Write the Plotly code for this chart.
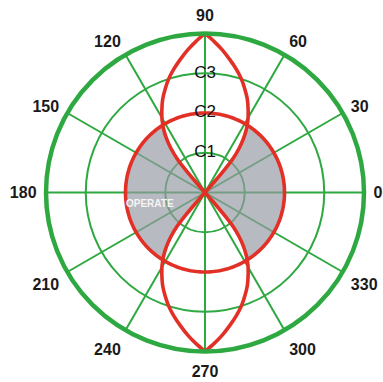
import numpy as np
import plotly.graph_objects as go

# Angular tick positions (degrees) and their labels
ANGLE_TICKS = list(range(0, 360, 30))
ANGLE_LABELS = [str(a) for a in ANGLE_TICKS]

# Radial reach settings and their labels
REACH_VALUES = [1, 2, 3]
REACH_LABELS = ["C1", "C2", "C3"]
OUTER_RADIUS = 4

# Restraint circle radius
CIRCLE_R = 2.0

# Left edge of the upper lens, from the origin out to its tip at 90 deg
LENS_R = [0.0, 0.40, 0.79, 1.11, 1.40, 1.67, 1.92, 2.00, 2.13, 2.35, 2.57,
          2.78, 2.99, 3.19, 3.40, 3.62, 3.81, 4.0]
LENS_THETA = [131.2, 131.2, 130.5, 129.5, 127.7, 125.5, 123.0, 122.0, 120.5, 117.5, 114.5,
              111.2, 107.9, 104.4, 100.6, 96.8, 93.4, 90.0]

# Operate-zone label
OPERATE_TEXT = "OPERATE"
OPERATE_R = 1.42
OPERATE_THETA = 192.0

GREEN = "rgb(46,168,64)"
RED = "rgb(226,48,38)"
GREY_FILL = "rgba(150,154,164,0.68)"
FONT = "Liberation Sans, Arial"

lens_r, lens_t = np.array(LENS_R), np.array(LENS_THETA)

fig = go.Figure()

# Shaded operate area: inside the circle, outside both lenses (left and right halves)
inside = lens_r <= CIRCLE_R
in_r, in_t = lens_r[inside], lens_t[inside]
for mirror in (False, True):
    arc = np.linspace(in_t[-1], 360 - in_t[-1], 80)
    th = np.concatenate([in_t, arc, (360 - in_t)[::-1]])
    rr = np.concatenate([in_r, np.full(arc.size, CIRCLE_R), in_r[::-1]])
    if mirror:
        th = 180 - th
    fig.add_trace(go.Scatterpolar(
        r=rr, theta=th, mode="lines", fill="toself", fillcolor=GREY_FILL,
        line=dict(width=0, color=GREY_FILL),
        hoverinfo="skip", showlegend=False))

# Restraint circle
circ_t = np.linspace(0, 360, 241)
fig.add_trace(go.Scatterpolar(
    r=np.full(circ_t.size, CIRCLE_R), theta=circ_t, mode="lines",
    line=dict(color=RED, width=3.6), hoverinfo="skip", showlegend=False))

# Lens characteristics: the edge and its mirrors about both axes
for th in (lens_t, 180 - lens_t, 360 - lens_t, 180 + lens_t):
    fig.add_trace(go.Scatterpolar(
        r=lens_r, theta=th, mode="lines",
        line=dict(color=RED, width=3.6, shape="spline", smoothing=0.7),
        hoverinfo="skip", showlegend=False))

# Reach labels on the 90 degree line
fig.add_trace(go.Scatterpolar(
    r=REACH_VALUES, theta=[90] * len(REACH_VALUES), mode="text",
    text=REACH_LABELS, textposition="middle center",
    textfont=dict(family=FONT, size=17, color="#111111"),
    hoverinfo="skip", showlegend=False))

# Operate label
fig.add_trace(go.Scatterpolar(
    r=[OPERATE_R], theta=[OPERATE_THETA], mode="text", text=[OPERATE_TEXT],
    textposition="middle center",
    textfont=dict(family=FONT, size=10, color="#f4f4f4", weight="bold"),
    hoverinfo="skip", showlegend=False))

fig.update_layout(
    width=383, height=382,
    margin=dict(l=46, r=19, t=32, b=29),
    paper_bgcolor="white",
    showlegend=False,
    polar=dict(
        bgcolor="white",
        radialaxis=dict(
            range=[0, OUTER_RADIUS], tickvals=REACH_VALUES, showticklabels=False,
            ticks="", showline=False, gridcolor=GREEN, gridwidth=1.6, angle=90,
        ),
        angularaxis=dict(
            rotation=0, direction="counterclockwise",
            tickmode="array", tickvals=ANGLE_TICKS, ticktext=ANGLE_LABELS,
            ticks="outside", ticklen=4, tickcolor="rgba(0,0,0,0)",
            showline=True, linecolor=GREEN, linewidth=4.5,
            gridcolor=GREEN, gridwidth=1.6,
            tickfont=dict(family=FONT, size=16, color="#1a1a1a", weight="bold"),
        ),
    ),
)

fig.write_html("out.html")
